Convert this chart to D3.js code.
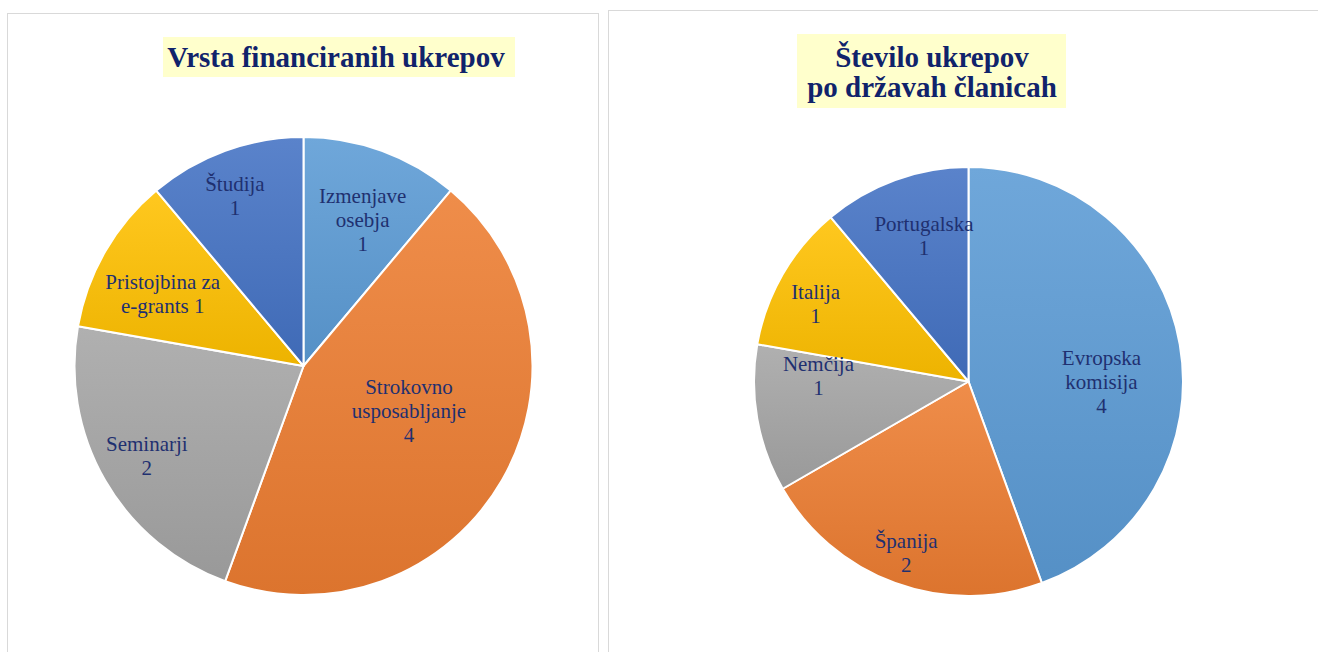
<!DOCTYPE html>
<html>
<head>
<meta charset="utf-8">
<script src="https://cdn.jsdelivr.net/npm/d3@7"></script>
<style>
    html, body { margin: 0; padding: 0; background: #fff; }
    svg { display: block; }
</style>
</head>
<body>
<svg id="chart" width="1318" height="652"></svg>
<script>
// chart 1: Vrsta financiranih ukrepov
const typeLabels = [["Izmenjave", "osebja", "1"], ["Strokovno", "usposabljanje", "4"], ["Seminarji", "2"], ["Pristojbina za", "e-grants 1"], ["Študija", "1"]];
const typeValues = [1, 4, 2, 1, 1];

// chart 2: Število ukrepov po državah članicah
const countryLabels = [["Evropska", "komisija", "4"], ["Španija", "2"], ["Nemčija", "1"], ["Italija", "1"], ["Portugalska", "1"]];
const countryValues = [4, 2, 1, 1, 1];

// office palette, same order in both charts
const palette = ["#5B9BD5", "#ED7D31", "#A5A5A5", "#FFC000", "#4472C4"];

// where each label sits: fraction of radius, angle nudge in degrees
const typeLabelPos = [[0.69, 2], [0.5, -7], [0.79, 0], [0.69, -3], [0.8, -2]];
const countryLabelPos = [[0.62, 10], [0.85, 0], [0.7, 12], [0.8, -3], [0.71, 3]];

const svg = d3.select("#chart");
const defs = svg.append("defs");

palette.forEach((c, i) => {
    const g = defs.append("linearGradient")
        .attr("id", "grad" + i)
        .attr("x1", 0).attr("y1", 0).attr("x2", 0).attr("y2", 1);
    g.append("stop").attr("offset", "0%").attr("stop-color", d3.interpolateRgb(c, "#fff")(0.12));
    g.append("stop").attr("offset", "100%").attr("stop-color", d3.interpolateRgb(c, "#000")(0.07));
});

// panels
svg.append("rect").attr("x", 7.5).attr("y", 13.5).attr("width", 591).attr("height", 660)
    .attr("fill", "#fff").attr("stroke", "#d9d9d9");
svg.append("rect").attr("x", 608.5).attr("y", 10.5).attr("width", 720).attr("height", 660)
    .attr("fill", "#fff").attr("stroke", "#d9d9d9");

function title(lines, cx, box) {
    svg.append("rect")
        .attr("x", box[0]).attr("y", box[1]).attr("width", box[2]).attr("height", box[3])
        .attr("fill", "#FFFFCC");
    svg.append("text")
        .attr("text-anchor", "middle")
        .attr("font-family", "Liberation Serif, Times New Roman, serif")
        .attr("font-weight", "bold")
        .attr("font-size", 29)
        .attr("fill", "#10236B")
        .selectAll("tspan").data(lines).join("tspan")
        .attr("x", cx)
        .attr("y", (d, i) => 67 + i * 30)
        .text(d => d);
}

function pie(values, labels, labelPos, cx, cy, r) {
    const arcs = d3.pie().sort(null)(values);
    const arc = d3.arc().innerRadius(0).outerRadius(r);
    const g = svg.append("g").attr("transform", `translate(${cx},${cy})`);

    g.selectAll("path").data(arcs).join("path")
        .attr("d", arc)
        .attr("fill", (d, i) => `url(#grad${i})`)
        .attr("stroke", "#fff")
        .attr("stroke-width", 2)
        .attr("stroke-linejoin", "round");

    const lh = 24;
    g.selectAll("text.lbl").data(arcs).join("text")
        .attr("class", "lbl")
        .attr("text-anchor", "middle")
        .attr("font-family", "Liberation Serif, Times New Roman, serif")
        .attr("font-size", 21)
        .attr("fill", "#1F3070")
        .each(function (d, i) {
            const [k, nudge] = labelPos[i];
            const a = (d.startAngle + d.endAngle) / 2 + nudge * Math.PI / 180;
            const x = Math.sin(a) * r * k;
            const y = -Math.cos(a) * r * k;
            const lines = labels[i];
            const y0 = y - (lines.length - 1) * lh / 2 + 7;
            d3.select(this).selectAll("tspan").data(lines).join("tspan")
                .attr("x", x)
                .attr("y", (t, j) => y0 + j * lh)
                .text(t => t);
        });
}

title(["Vrsta financiranih ukrepov"], 336, [163, 37, 352, 40]);
title(["Število ukrepov", "po državah članicah"], 932, [797, 34, 269, 74]);

pie(typeValues, typeLabels, typeLabelPos, 303.5, 366, 229);
pie(countryValues, countryLabels, countryLabelPos, 968.5, 381.5, 214.5);
</script>
</body>
</html>
